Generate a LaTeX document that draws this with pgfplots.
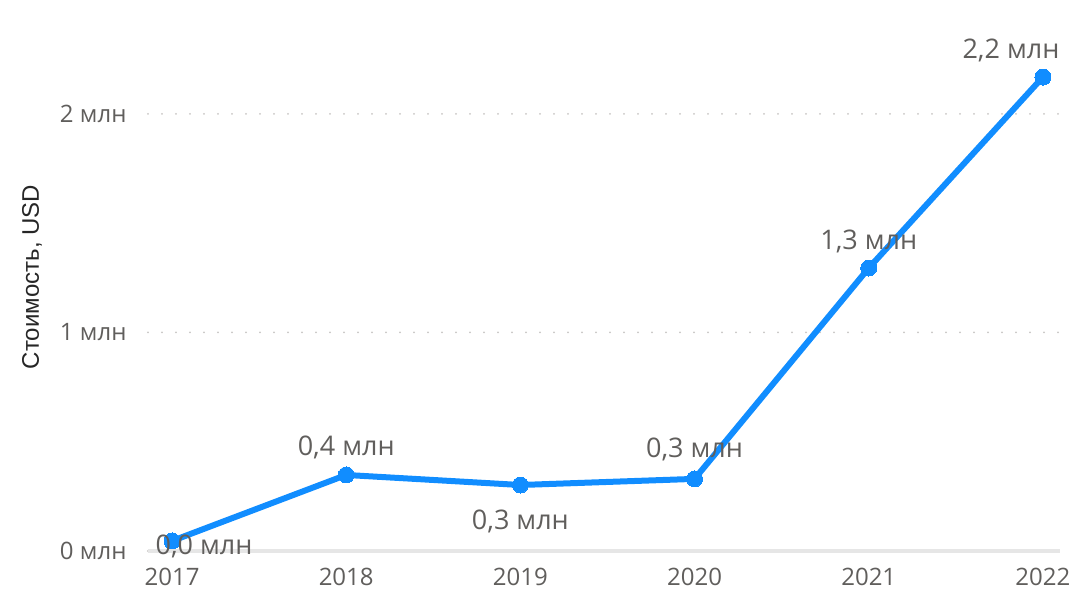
\documentclass[border=0pt]{standalone}
\usepackage{fontspec}
\setmainfont{Open Sans}
\newfontfamily\arialfont{Liberation Sans}
\usepackage{pgfplots}
\usepackage{pgfplotstable}
\pgfplotsset{compat=1.18}

\definecolor{pbiblue}{HTML}{118DFF}
\definecolor{lblgray}{HTML}{605E5C}
\definecolor{gridgray}{HTML}{C8C6C4}
\definecolor{basegray}{HTML}{E6E6E6}

% year, value (mln USD), data label, label offset in bp
\pgfplotstableread{
year value label dx dy
2017 0.046 {0,0 млн} 32 -6
2018 0.348 {0,4 млн} 0 28
2019 0.302 {0,3 млн} 0 -36
2020 0.330 {0,3 млн} 0 29
2021 1.295 {1,3 млн} 0 27
2022 2.169 {2,2 млн} -32 27
}\costdata

\begin{document}
\begin{tikzpicture}
\path[use as bounding box] (-148bp,-62bp) rectangle (926bp,551bp);
\begin{axis}[
    at={(0,0)}, anchor=south west,
    scale only axis,
    width=912bp, height=491bp,
    xmin=2016.862, xmax=2022.098,
    ymin=0, ymax=2.247,
    clip=false,
    xtick={2017,2018,2019,2020,2021,2022},
    xticklabels={2017,2018,2019,2020,2021,2022},
    ytick={0,1,2},
    yticklabels={0 млн,1 млн,2 млн},
    major tick length=0pt,
    ymajorgrids,
    grid style={gridgray, line width=2bp, dash pattern=on 0pt off 14bp, line cap=round},
    axis x line*=bottom, axis y line*=left,
    x axis line style={-, basegray, line width=4bp},
    y axis line style={draw=none},
    tick label style={font=\fontsize{24bp}{28bp}\selectfont, text=lblgray},
    xticklabel style={yshift=-14bp},
    yticklabel style={xshift=-18bp},
    ylabel={\arialfont Стоимость, USD},
    ylabel style={at={(rel axis cs:0,0.558)}, anchor=center, yshift=116bp,
        font=\fontsize{24bp}{28bp}\selectfont, text=black!85},
]
\addplot[pbiblue, line width=6bp, mark=*, mark size=8bp,
    mark options={fill=pbiblue, draw=pbiblue, line width=0pt},
    point meta=explicit symbolic,
    nodes near coords,
    visualization depends on={\thisrow{dx} \as \labeldx},
    visualization depends on={\thisrow{dy} \as \labeldy},
    nodes near coords style={anchor=center, xshift=\labeldx bp, yshift=\labeldy bp,
        font=\fontsize{27bp}{31bp}\selectfont, text=lblgray},
] table[x=year, y=value, meta=label] {\costdata};
\end{axis}
\end{tikzpicture}
\end{document}
